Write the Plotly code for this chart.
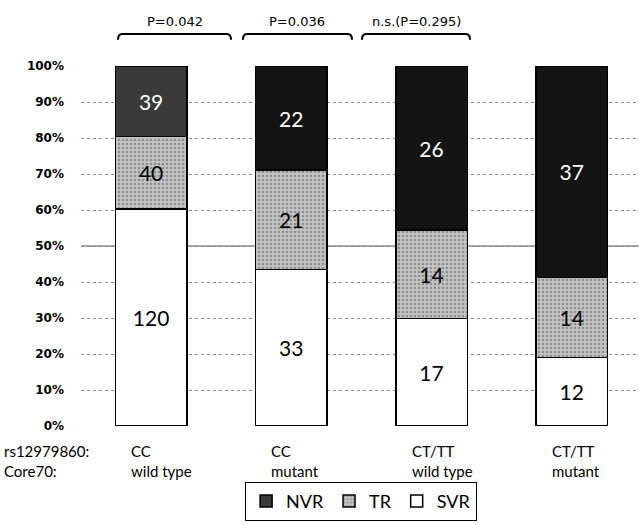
import plotly.graph_objects as go

categories = ["CC|wild type", "CC|mutant", "CT/TT|wild type", "CT/TT|mutant"]
cat_line1 = ["CC", "CC", "CT/TT", "CT/TT"]
cat_line2 = ["wild type", "mutant", "wild type", "mutant"]
svr = [120, 33, 17, 12]
tr = [40, 21, 14, 14]
nvr = [39, 22, 26, 37]
p_labels = ["P=0.042", "P=0.036", "n.s.(P=0.295)"]
y_ticks = [0, 10, 20, 30, 40, 50, 60, 70, 80, 90, 100]
y_tick_text = [f"{v}%" for v in y_ticks]

num_font = dict(family="Lato, Open Sans, sans-serif", size=21)
x_idx = list(range(len(categories)))

fig = go.Figure()
fig.add_trace(go.Bar(
    x=x_idx, y=svr, name="SVR", text=[str(v) for v in svr],
    marker=dict(color="white", line=dict(color="black", width=1.5)),
    textfont=dict(color="black", **num_font),
))
fig.add_trace(go.Bar(
    x=x_idx, y=tr, name="TR", text=[str(v) for v in tr],
    marker=dict(color="#c4c4c4", line=dict(color="black", width=1.5),
                pattern=dict(shape=".", fgcolor="#555555", bgcolor="#c4c4c4", size=4, solidity=0.35)),
    textfont=dict(color="black", **num_font),
))
fig.add_trace(go.Bar(
    x=x_idx, y=nvr, name="NVR", text=[str(v) for v in nvr],
    marker=dict(color=["#3a3a3a", "#141414", "#141414", "#141414"], line=dict(color="black", width=1.5)),
    textfont=dict(color="white", **num_font),
))
fig.update_traces(textposition="inside", insidetextanchor="middle", textangle=0,
                  constraintext="none")

L = 81
fig.update_layout(
    width=639, height=525,
    margin=dict(l=L, r=0, t=66, b=99),
    barmode="stack", barnorm="percent", bargap=0.49,
    plot_bgcolor="white", paper_bgcolor="white",
    showlegend=True,
    legend=dict(orientation="h", x=0.502, xanchor="center", y=-0.155, yanchor="top",
                traceorder="reversed", bordercolor="black", borderwidth=1,
                font=dict(family="Lato, Open Sans, sans-serif", size=18, color="black"),
                itemwidth=30, tracegroupgap=0),
    xaxis=dict(range=[-0.5, 3.48], showticklabels=False, showgrid=False, zeroline=False,
               showline=False, ticks=""),
    yaxis=dict(range=[0, 100], tickmode="array", tickvals=y_ticks, ticktext=y_tick_text,
               showgrid=True, gridcolor="#8a8a8a", griddash="dot", gridwidth=1,
               zeroline=False, showline=False, ticklabelstandoff=16,
               tickfont=dict(family="DejaVu Sans", size=12, color="black", weight="bold")),
)

# solid 50% line
fig.add_shape(type="line", xref="paper", yref="y", x0=0, x1=1, y0=50, y1=50,
              line=dict(color="#555555", width=1), layer="below")

# category labels
lab_font = dict(family="Lato, Open Sans, sans-serif", size=15, color="black")
for i in x_idx:
    fig.add_annotation(x=i, y=0, xref="x", yref="y", text=cat_line1[i] + "<br>" + cat_line2[i],
                       xanchor="left", yanchor="top", align="left", xshift=-22, yshift=-14,
                       showarrow=False, font=lab_font)
fig.add_annotation(x=0, y=0, xref="paper", yref="y", text="rs12979860:<br>Core70:",
                   xanchor="left", yanchor="top", align="left", xshift=-L + 2, yshift=-14,
                   showarrow=False, font=lab_font)

# braces with p-values
spans = [(-0.236, 0.57), (0.655, 1.433), (1.504, 2.275)]
y_top, y_bot = 1.089, 1.073
for (a, b), lab in zip(spans, p_labels):
    d = 0.03
    path = (f"M {a},{y_bot} Q {a},{y_top} {a + d},{y_top} L {b - d},{y_top} "
            f"Q {b},{y_top} {b},{y_bot}")
    fig.add_shape(type="path", xref="x", yref="paper", path=path,
                  line=dict(color="black", width=2))
    fig.add_annotation(x=(a + b) / 2, y=1.098, xref="x", yref="paper", text=lab,
                       showarrow=False, yanchor="bottom",
                       font=dict(family="DejaVu Sans", size=13, color="black"))

fig.write_html("out.html")
